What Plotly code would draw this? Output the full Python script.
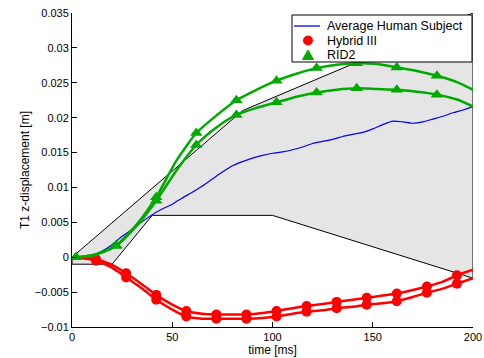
import plotly.graph_objects as go

# Corridor polygon (time [ms], displacement [m])
corridor_t = [0, 85, 200, 200, 100, 40, 20, 0, 0]
corridor_v = [0, 0.021, 0.035, -0.003, 0.006, 0.006, -0.001, -0.001, 0]

# Average human subject
human_t = [0, 5, 10, 15, 20, 25, 30, 35, 40, 45, 50, 55, 60, 65, 70, 75, 80, 85, 90, 95, 100,
           105, 110, 115, 120, 125, 130, 135, 140, 145, 150, 155, 160, 165, 170, 175, 180, 185, 190, 195, 200]
human_v = [0, 0.0001, 0.0003, 0.0009, 0.0018, 0.0030, 0.0040, 0.0051, 0.0061, 0.0069, 0.0076,
           0.0085, 0.0093, 0.0102, 0.0112, 0.0122, 0.0131, 0.0137, 0.0142, 0.0146, 0.0149,
           0.0151, 0.0154, 0.0158, 0.0163, 0.0166, 0.0169, 0.0173, 0.0176, 0.0179, 0.0184,
           0.0190, 0.0195, 0.0194, 0.0192, 0.0194, 0.0198, 0.0202, 0.0207, 0.0211, 0.0216]

# Hybrid III (two runs)
hyb_t = [0, 5, 12, 20, 27, 35, 42, 50, 57, 65, 72, 80, 87, 95, 102, 110, 117, 125, 132, 140,
         147, 155, 162, 170, 177, 185, 192, 200]
hyb_a = [0, -0.0001, -0.0003, -0.0011, -0.0023, -0.0039, -0.0054, -0.0068, -0.0077, -0.0081,
         -0.0082, -0.0082, -0.0082, -0.0080, -0.0077, -0.0073, -0.0070, -0.0067, -0.0064, -0.0061,
         -0.0058, -0.0055, -0.0052, -0.0047, -0.0042, -0.0035, -0.0026, -0.0018]
hyb_b = [0, -0.0001, -0.0005, -0.0015, -0.0029, -0.0045, -0.0061, -0.0075, -0.0085, -0.0088,
         -0.0088, -0.0088, -0.0088, -0.0087, -0.0085, -0.0081, -0.0078, -0.0076, -0.0073, -0.0071,
         -0.0068, -0.0066, -0.0063, -0.0057, -0.0051, -0.0045, -0.0038, -0.0030]
hyb_marker_idx = list(range(2, 27, 2))

# RID2 (two runs)
rid_t = [0, 2, 12, 22, 32, 42, 52, 62, 72, 82, 92, 102, 112, 122, 132, 142, 152, 162, 172, 182, 192, 200]
rid_a = [0, 0.0, 0.0004, 0.0017, 0.0046, 0.0086, 0.0138, 0.0178, 0.0203, 0.0225, 0.0240, 0.0253,
         0.0263, 0.0271, 0.0276, 0.0278, 0.0277, 0.0272, 0.0267, 0.0260, 0.0251, 0.0240]
rid_b = [0, 0.0, 0.0004, 0.0016, 0.0044, 0.0081, 0.0124, 0.0161, 0.0186, 0.0204, 0.0214, 0.0222,
         0.0230, 0.0236, 0.0240, 0.0242, 0.0241, 0.0240, 0.0237, 0.0233, 0.0226, 0.0216]
rid_marker_idx = list(range(1, 20, 2))

x_ticks = [0, 50, 100, 150, 200]
y_ticks = [-0.01, -0.005, 0, 0.005, 0.01, 0.015, 0.02, 0.025, 0.03, 0.035]
y_ticktext = ["\u22120.01", "\u22120.005", "0", "0.005", "0.01", "0.015", "0.02", "0.025", "0.03", "0.035"]

legend_names = ["Average Human Subject", "Hybrid III", "RID2"]

BLUE = "#0000ff"
RED = "#ff0000"
GREEN = "#00aa00"
FONT = "Liberation Sans, Arial, sans-serif"

fig = go.Figure()

fig.add_trace(go.Scatter(x=corridor_t, y=corridor_v, mode="lines", fill="toself",
                         fillcolor="#e5e5e5", line=dict(color="black", width=1),
                         hoverinfo="skip"))

fig.add_trace(go.Scatter(x=human_t, y=human_v, mode="lines", name=legend_names[0],
                         line=dict(color=BLUE, width=1.2, shape="spline", smoothing=0.6)))

for run in [hyb_a, hyb_b]:
    fig.add_trace(go.Scatter(x=hyb_t, y=run, mode="lines", name=legend_names[1],
                             line=dict(color=RED, width=2.5, shape="spline", smoothing=0.6)))
    fig.add_trace(go.Scatter(x=[hyb_t[k] for k in hyb_marker_idx], y=[run[k] for k in hyb_marker_idx],
                             mode="markers", name=legend_names[1],
                             marker=dict(symbol="circle", size=10, color=RED)))

for run in [rid_a, rid_b]:
    fig.add_trace(go.Scatter(x=rid_t, y=run, mode="lines", name=legend_names[2],
                             line=dict(color=GREEN, width=2.5, shape="spline", smoothing=0.6)))
    fig.add_trace(go.Scatter(x=[rid_t[k] for k in rid_marker_idx], y=[run[k] for k in rid_marker_idx],
                             mode="markers", name=legend_names[2],
                             marker=dict(symbol="triangle-up", size=11, color=GREEN)))

# ---- compact MATLAB-style legend box (paper coordinates) ----
L, R, T, B = 72, 11, 13, 31
W, H = 484, 358
pw, ph = W - L - R, H - T - B


def px(xp):
    return (xp - L) / pw


def py(yp):
    return (H - B - yp) / ph


row_y = [26, 40.5, 55]
sym_x = 308
shapes = [
    dict(type="rect", xref="paper", yref="paper", x0=px(292), x1=px(472), y0=py(62), y1=py(15),
         line=dict(color="black", width=1), fillcolor="white", layer="above"),
    dict(type="line", xref="paper", yref="paper", x0=px(294), x1=px(320), y0=py(row_y[0]), y1=py(row_y[0]),
         line=dict(color=BLUE, width=1.3), layer="above"),
    dict(type="circle", xref="paper", yref="paper", xsizemode="pixel", ysizemode="pixel",
         xanchor=px(sym_x), yanchor=py(row_y[1]), x0=-4.5, x1=4.5, y0=-4.5, y1=4.5,
         fillcolor=RED, line=dict(color=RED, width=1), layer="above"),
    dict(type="path", xref="paper", yref="paper", xsizemode="pixel", ysizemode="pixel",
         xanchor=px(sym_x), yanchor=py(row_y[2]), path="M -5.5,-4.5 L 5.5,-4.5 L 0,5 Z",
         fillcolor=GREEN, line=dict(color=GREEN, width=1), layer="above"),
]
annotations = [
    dict(xref="paper", yref="paper", x=px(325), y=py(yy), text=name, showarrow=False,
         xanchor="left", yanchor="middle", font=dict(size=12.5, family=FONT, color="black"))
    for name, yy in zip(legend_names, row_y)
]

fig.update_layout(
    width=W, height=H,
    margin=dict(l=L, r=R, t=T, b=B),
    paper_bgcolor="white", plot_bgcolor="white",
    font=dict(family=FONT, size=11, color="black"),
    showlegend=False,
    shapes=shapes, annotations=annotations,
    xaxis=dict(range=[0, 200], tickvals=x_ticks, ticks="inside", ticklen=5, tickcolor="black",
               showline=True, linecolor="black", linewidth=1, showgrid=False, zeroline=False,
               automargin=False,
               title=dict(text="time [ms]", standoff=2, font=dict(size=12))),
    yaxis=dict(range=[-0.01, 0.035], tickvals=y_ticks, ticktext=y_ticktext, ticks="inside",
               ticklen=5, tickcolor="black", showline=True, linecolor="black", linewidth=1,
               showgrid=False, zeroline=False, automargin=False,
               title=dict(text="T1 z-displacement [m]", standoff=2, font=dict(size=12))),
)

fig.write_html("out.html")
